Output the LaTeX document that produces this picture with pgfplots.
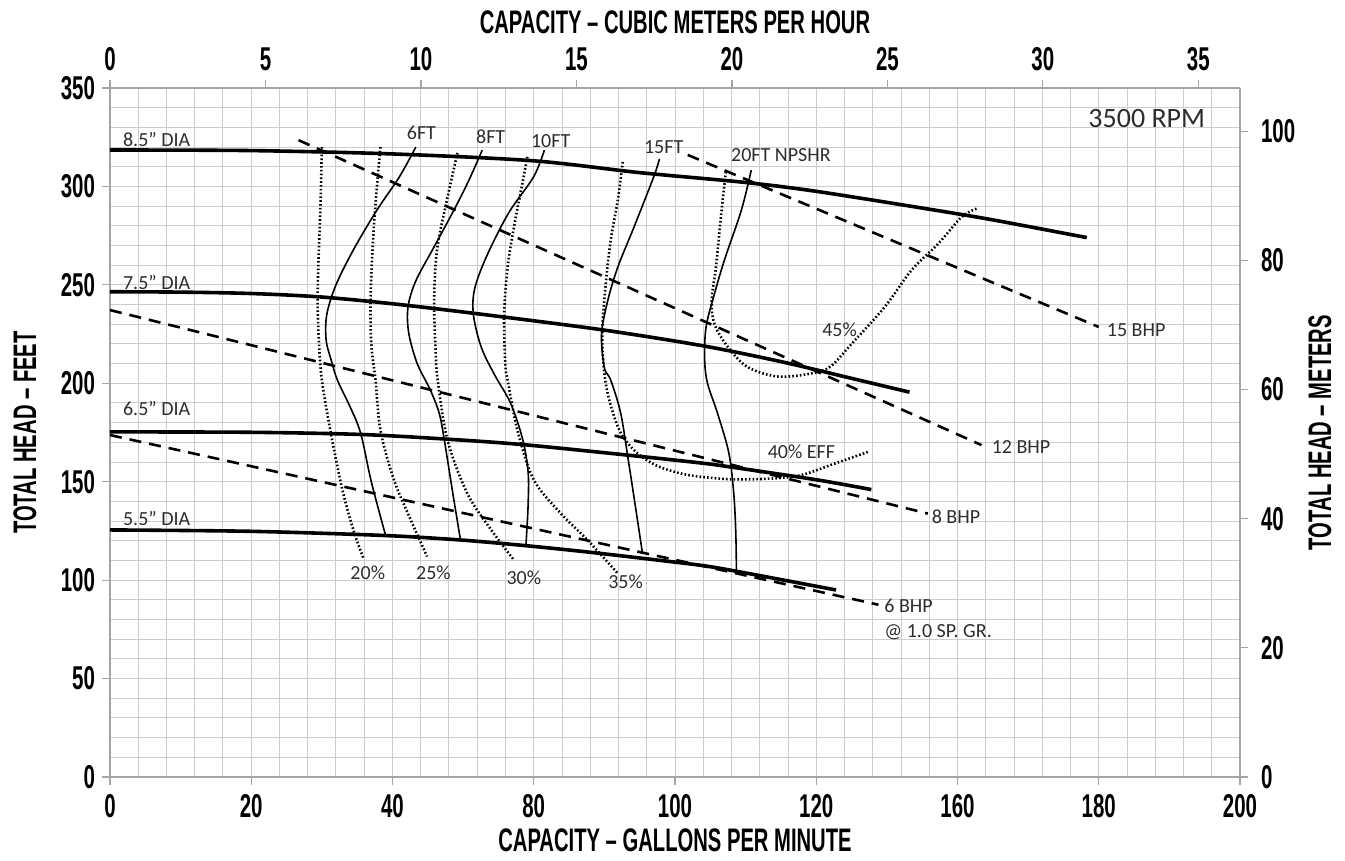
\documentclass[border=0pt]{standalone}
\usepackage{fontspec}
\setmainfont{Carlito}
\newfontfamily\condfont[FakeStretch=0.62]{Liberation Sans}
\usepackage{pgfplots}
\pgfplotsset{compat=1.18}
\definecolor{txt}{RGB}{45,45,45}
\definecolor{gridc}{RGB}{205,205,205}
\definecolor{axc}{RGB}{165,165,165}
\tikzset{lab/.style={font=\fontsize{10}{11}\selectfont, text=txt, inner sep=0pt}}
\newcommand{\qt}{\symbol{34}}
\begin{document}
\begin{tikzpicture}
\pgfplotsset{
  common/.style={
    scale only axis, width=565pt, height=344.5pt,
    at={(0,0)}, anchor=south west,
    axis line style={axc, line width=0.7pt},
    tick style={axc, line width=0.6pt},
    tick align=outside, major tick length=4pt, minor tick length=0pt,
    /pgf/number format/assume math mode=true,
    ticklabel style={font=\condfont\bfseries\fontsize{16.5}{17}\selectfont, text=black},
    label style={font=\condfont\bfseries\fontsize{16.3}{17}\selectfont, text=black},
  },
  head/.style={black, line width=1.8pt, smooth, tension=0.5},
  bhp/.style={black, line width=1.3pt, dash pattern=on 6pt off 4pt},
  npsh/.style={black, line width=0.8pt, smooth, tension=0.55},
  eff/.style={black, line width=1.3pt, dash pattern=on 0.8pt off 1.1pt, smooth, tension=0.55},
}
\begin{axis}[common, name=ax,
  xmin=0, xmax=160, ymin=0, ymax=350,
  axis x line*=bottom, axis y line*=left,
  xtick={0,20,...,160},
  xticklabels={0,20,40,80,100,120,160,180,200},
  ytick={0,50,...,350},
  minor x tick num=4, minor y tick num=4,
  grid=both,
  major grid style={gridc, line width=0.5pt},
  minor grid style={gridc, line width=0.5pt},
  xlabel={CAPACITY – GALLONS PER MINUTE},
  ylabel={TOTAL HEAD – FEET},
  x label style={at={(axis description cs:0.5,-0.0914)}, anchor=center},
  y label style={at={(axis description cs:-0.0752,0.5)}, anchor=center},
  xticklabel style={yshift=-1pt},
  yticklabel style={xshift=0pt},
  clip=false,
]
% head curves
\addplot[head] coordinates {(0,318.5)(20,318.2)(40,316.5)(60,313)(75,307)(90,302)(100,297.5)(115,289)(125,283)(138.3,274)};
\addplot[head] coordinates {(0,246.5)(10,246.3)(20,245.6)(30,243.8)(41,240)(55,234)(70,227)(84,219)(95,211)(105,202.5)(113.2,195.5)};
\addplot[head] coordinates {(0,175.3)(20,175.1)(35.5,174)(47.8,171.6)(58.6,168.8)(73.3,163.5)(83.7,159.5)(88.2,157.3)(100,151)(107.8,146)};
\addplot[head] coordinates {(0,125.5)(19.9,124.8)(38.7,122.7)(49.6,120.4)(58.6,117.6)(67.1,114.5)(75.6,111)(83.7,107.5)(88.7,104.5)(102.8,95)};
% BHP lines
\addplot[bhp] coordinates {(81.8,316)(140,228.6)};
\addplot[bhp] coordinates {(26.7,323.5)(123.4,168.6)};
\addplot[bhp] coordinates {(0,237.2)(115.8,133.8)};
\addplot[bhp] coordinates {(0,173.7)(108.8,87.5)};
% NPSHR curves
\addplot[npsh] coordinates {(43.3,320)(41,305)(37.8,288)(34.5,268)(32,250)(30.7,235)(30.6,222)(31.3,212)(32.2,201.6)(34,188)(35.5,174.5)(37,150)(39,123)};
\addplot[npsh] coordinates {(52.7,318.4)(50.8,303)(48.7,288)(45.8,268.7)(43.3,252)(42.2,238.8)(42.3,225.5)(43.5,210)(45.3,197)(46.6,185)(47.3,172)(48.5,145)(49.6,121)};
\addplot[npsh] coordinates {(61.5,318.4)(60,305)(56.7,288)(54.4,272.7)(52.5,257.5)(51.5,245.6)(51.5,233.7)(52.6,218)(54.5,204)(56.7,190)(58.4,172)(59.2,155)(59.2,138)(58.9,118)};
\addplot[npsh] coordinates {(77.8,314)(77,305)(74.2,279.4)(71.9,259)(70.5,242.3)(69.6,225)(70,208)(70.9,201.6)(72.3,185)(73.3,163)(74.2,142)(75.4,113.5)};
\addplot[npsh] coordinates {(90.8,308.3)(89.4,288)(87,262.6)(85.6,245.6)(84.4,228.6)(84.2,212)(84.6,200)(86,185)(87.6,165)(88.3,145)(88.6,125)(88.7,104.3)};
% efficiency curves
\addplot[eff] coordinates {(30,320)(29.8,290)(29.5,260)(29.4,240)(29.6,220)(30,201.6)(31.2,176)(32.9,146)(34.5,125)(35.9,111)};
\addplot[eff] coordinates {(38.3,320)(37.8,300)(37.3,276)(36.9,244)(37,220)(37.6,201.6)(38.3,176)(40.2,151)(42.6,130.5)(44.9,112)};
\addplot[eff] coordinates {(49.2,317)(47.7,293)(46.3,267.6)(45.9,242.3)(46.1,217)(46.4,201.6)(47.8,171)(50.6,144)(54,125.4)(57.2,110.2)};
\addplot[eff] coordinates {(59.1,315)(58.2,298)(57.2,279.4)(56.3,259)(55.8,234)(56,208.4)(56.3,201.6)(57.7,176)(60,151)(63.8,134)(67.6,120.4)(71.9,103.4)};
\addplot[eff] coordinates {(72.6,312.4)(71.9,293)(70.9,272.7)(70.2,250.7)(69.7,225.3)(70,205)(70.8,190)(72.3,175)(74.5,165)(77.5,158)(81.3,153.8)(85,152)(88.4,151.2)(93.6,151.6)(97.9,153.4)(102.6,159.2)(107.3,165.1)};
\addplot[eff] coordinates {(87.2,307.4)(86.5,284.5)(85.8,259)(85.2,242.3)(85.6,230)(87.5,218.4)(90.3,208.2)(94.6,203.4)(99.3,205)(102,208.5)(105,220)(109.7,238.8)(113.5,257.5)(117.3,271)(120.6,284.5)(122.7,288.7)};
% labels
\node[lab, anchor=west] at (axis cs:1.8,324) {8.5\qt{} DIA};
\node[lab, anchor=west] at (axis cs:1.8,251.4) {7.5\qt{} DIA};
\node[lab, anchor=west] at (axis cs:1.8,187.4) {6.5\qt{} DIA};
\node[lab, anchor=west] at (axis cs:1.8,131.5) {5.5\qt{} DIA};
\node[lab] at (axis cs:44.1,327) {6FT};
\node[lab] at (axis cs:53.9,325) {8FT};
\node[lab] at (axis cs:62.4,323) {10FT};
\node[lab] at (axis cs:78.4,320) {15FT};
\node[lab] at (axis cs:95,316) {20FT NPSHR};
\node[lab, font=\fontsize{14}{15}\selectfont] at (axis cs:146.8,334.7) {3500 RPM};
\node[lab, anchor=west] at (axis cs:141.1,227) {15 BHP};
\node[lab, anchor=west] at (axis cs:124.8,167.6) {12 BHP};
\node[lab, anchor=west] at (axis cs:116.3,132) {8 BHP};
\node[lab, anchor=west] at (axis cs:109.6,86.8) {6 BHP};
\node[lab, anchor=west] at (axis cs:109.6,73.6) {@ 1.0 SP. GR.};
\node[lab] at (axis cs:103.3,227) {45\%};
\node[lab] at (axis cs:97.9,165) {40\% EFF};
\node[lab] at (axis cs:36.5,103.6) {20\%};
\node[lab] at (axis cs:45.8,103.6) {25\%};
\node[lab] at (axis cs:58.6,101) {30\%};
\node[lab] at (axis cs:73,99) {35\%};
\end{axis}
\begin{axis}[common,
  xmin=0, xmax=36.34, ymin=0, ymax=106.68,
  axis x line*=top, axis y line*=right,
  xtick={0,5,...,35}, ytick={0,20,...,100},
  xlabel={CAPACITY – CUBIC METERS PER HOUR},
  ylabel={TOTAL HEAD – METERS},
  x label style={at={(axis description cs:0.5,1.0958)}, anchor=center},
  y label style={at={(axis description cs:1.0708,0.5)}, anchor=center},
  xticklabel style={yshift=1pt},
  yticklabel style={xshift=3pt},
]
\addplot[draw=none] coordinates {(0,0)};
\end{axis}
\pgfresetboundingbox
\path[use as bounding box] ([xshift=-55pt,yshift=-42pt]ax.south west) rectangle ([xshift=52.5pt,yshift=44pt]ax.north east);
\end{tikzpicture}
\end{document}
